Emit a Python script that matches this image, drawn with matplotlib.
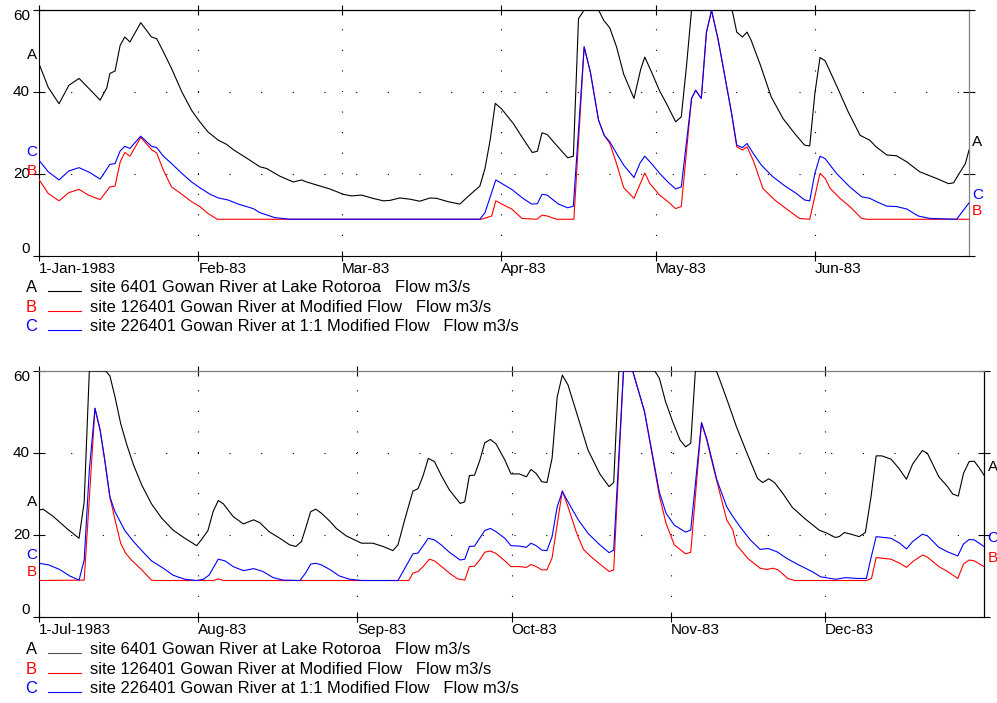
import matplotlib
matplotlib.use('Agg')
import matplotlib.pyplot as plt
from matplotlib.lines import Line2D
import pandas as pd
import numpy as np

plt.rcParams['font.family'] = ['Liberation Sans', 'DejaVu Sans']
plt.rcParams['lines.scale_dashes'] = False

# ---------------- data: top panel (days after 1-Jan-1983) ----------------
top_a_days = [0, 1.8, 3.9, 5.8, 7.8, 11.9, 13.2, 13.8, 14.8, 15.8, 16.7, 17.7, 19.8, 21.9, 22.9, 24.2,
              25.8, 27.8, 29.7, 31.3, 32.9, 34.9, 36.5, 37.8, 40.7, 43.0, 44.3, 46.9, 49.5, 51.1, 52.1,
              56.6, 59.2, 60.8, 62.8, 65.0, 67.0, 68.3, 70.2, 72.2, 74.1, 76.1, 77.4, 79.6, 81.9, 83.8,
              85.8, 86.8, 87.8, 88.8, 90.0, 92.3, 94.2, 96.0, 97.0, 97.9, 98.9, 100.7, 102.9, 104.0,
              105.0, 106.1, 108.9, 109.9, 111.1, 112.4, 113.8, 115.8, 117.1, 117.9, 119.2, 120.8, 122.1,
              123.9, 125.0, 126.0, 127.0, 134.9, 135.8, 136.9, 137.8, 138.6, 140.3, 142.5, 144.8, 147.1,
              149.0, 150.0, 151.0, 152.0, 153.0, 155.2, 157.5, 159.8, 161.7, 162.9, 165.0, 166.9, 168.9,
              171.4, 175.0, 177.0, 178.0, 179.3, 180.3, 181.0]
top_a_vals = [46.9, 41.1, 37.1, 41.6, 43.3, 38.0, 41.0, 44.5, 45.1, 51.4, 53.4, 52.2, 56.9, 53.4, 53.0, 49.8,
              45.7, 40.0, 35.5, 32.7, 30.2, 28.2, 27.2, 25.9, 23.6, 21.7, 21.3, 19.4, 18.0, 18.5, 18.0,
              16.3, 15.0, 14.6, 14.8, 14.0, 13.4, 13.5, 14.1, 13.8, 13.3, 14.1, 14.0, 13.2, 12.6, 14.8,
              17.0, 21.3, 28.2, 37.2, 35.9, 32.3, 28.6, 25.2, 25.5, 30.0, 29.6, 27.0, 23.9, 24.3,
              57.9, 60.0, 60.0, 57.5, 55.6, 51.0, 44.3, 38.4, 45.5, 48.5, 44.9, 40.2, 37.2,
              32.7, 33.9, 46.1, 60.0, 60.0, 54.6, 53.4, 54.6, 52.6, 46.9, 38.8, 33.5, 29.8,
              27.0, 26.8, 39.6, 48.4, 47.6, 41.6, 35.1, 29.4, 28.2, 26.6, 24.6, 24.4, 22.9,
              20.5, 18.7, 17.6, 17.8, 20.5, 22.5, 25.8]

top_b_days = [0, 1.8, 3.9, 5.8, 7.8, 9.6, 11.9, 13.8, 14.8, 15.8, 16.7, 17.7, 19.8, 21.9, 22.9, 24.2,
              25.8, 27.8, 29.7, 31.3, 32.9, 34.7, 86.1, 88.1, 88.9, 90.4, 92.0, 94.0, 96.9, 97.9, 98.9,
              100.7, 104.1, 106.1, 107.3, 108.9, 110.0, 111.1, 112.4, 113.8, 115.8, 117.9, 118.9, 120.8,
              122.4, 123.9, 125.0, 127.0, 127.8, 128.9, 129.9, 130.9, 132.2, 133.5, 134.8, 135.8, 136.9,
              137.8, 139.0, 140.9, 143.2, 145.4, 148.0, 150.0, 152.0, 153.0, 154.0, 155.9, 157.8, 160.1,
              161.1, 181.0]
top_b_vals = [18.6, 15.2, 13.4, 15.4, 16.2, 14.8, 13.7, 16.8, 17.0, 22.9, 25.2, 24.3, 28.9, 25.9, 25.1, 20.9,
              16.8, 15.0, 13.2, 12.0, 10.3, 8.9, 8.9, 9.7, 13.4, 12.4, 11.4, 9.1, 8.9, 9.9, 9.7,
              8.9, 8.9, 51.0, 44.9, 33.1, 29.4, 27.4, 22.5, 16.6, 14.0, 20.2, 17.6, 14.8,
              13.2, 11.5, 12.0, 38.4, 40.4, 38.4, 54.6, 59.9, 52.6, 43.7, 34.7, 26.6, 25.8,
              26.6, 23.3, 16.4, 13.6, 11.5, 9.1, 8.9, 20.1, 18.9, 16.4, 14.0, 12.0, 9.1,
              8.9, 8.9]

top_c_days = [0, 1.8, 3.9, 5.8, 7.8, 9.9, 11.9, 13.8, 14.8, 15.8, 16.7, 17.7, 19.8, 21.9, 22.9, 24.2,
              25.8, 27.8, 29.7, 31.3, 33.3, 34.9, 36.8, 38.8, 41.7, 43.0, 45.9, 48.8, 85.8, 86.8, 88.9,
              92.0, 94.2, 95.9, 97.0, 97.9, 98.9, 101.1, 102.9, 104.0, 106.1, 107.3, 108.9, 110.0, 111.1,
              112.4, 113.8, 115.8, 117.0, 117.9, 119.2, 120.8, 122.4, 123.9, 125.0, 127.0, 127.8, 128.9,
              129.9, 130.9, 132.2, 133.5, 134.8, 135.8, 136.9, 137.8, 139.0, 140.6, 142.8, 145.1, 147.4,
              149.0, 150.0, 151.0, 152.0, 153.0, 155.2, 157.8, 160.1, 161.7, 163.0, 165.0, 166.9, 168.9,
              171.1, 173.4, 178.6, 181.0]
top_c_vals = [23.3, 20.5, 18.5, 20.7, 21.5, 20.3, 18.7, 22.3, 22.5, 25.6, 26.7, 26.2, 29.2, 26.7, 26.4, 24.3,
              22.5, 20.1, 18.0, 16.6, 15.0, 14.1, 13.6, 12.6, 11.5, 10.5, 9.3, 8.9, 8.9, 10.5, 18.5,
              16.2, 14.0, 12.6, 12.7, 15.0, 14.8, 12.6, 11.7, 12.1, 51.0, 44.9, 33.1, 29.4, 27.8,
              25.0, 22.1, 19.1, 22.7, 24.3, 22.5, 20.1, 18.0, 16.3, 16.8, 38.4, 40.4, 38.4,
              54.6, 59.9, 52.6, 43.7, 34.7, 27.0, 26.4, 27.4, 25.0, 22.1, 19.3, 17.1, 15.2,
              13.6, 13.4, 20.1, 24.3, 23.7, 20.1, 16.8, 14.4, 14.0, 13.2, 12.1, 12.0, 11.4,
              9.7, 9.1, 8.9, 12.9]

# ---------------- data: bottom panel (days after 1-Jul-1983) ----------------
bot_a_days = [0, 0.8, 2.8, 5.4, 7.8, 8.8, 9.8, 13.0, 13.8, 14.8, 15.9, 17.1, 18.4, 20.0, 21.9, 23.9,
              26.1, 28.4, 30.7, 31.6, 32.9, 33.9, 34.9, 35.9, 37.8, 39.8, 41.8, 43.0, 44.8, 46.9, 48.8,
              50.0, 51.1, 51.9, 52.9, 53.9, 55.0, 56.6, 57.9, 59.8, 62.8, 65.0, 67.0, 68.9, 69.9, 71.2,
              72.8, 73.8, 74.8, 75.8, 77.0, 78.3, 79.9, 82.0, 82.9, 83.8, 84.8, 85.8, 86.8, 87.9, 89.0,
              90.7, 91.9, 93.5, 94.9, 95.8, 96.8, 97.9, 98.9, 99.9, 100.9, 101.9, 103.0, 105.0, 106.9,
              109.2, 111.0, 111.9, 112.9, 119.9, 120.8, 122.0, 123.4, 124.8, 125.9, 126.9, 127.8, 131.9,
              132.8, 134.1, 135.8, 138.0, 139.9, 140.9, 142.1, 143.2, 144.8, 146.7, 149.3, 151.9, 153.5,
              155.0, 155.8, 156.8, 158.1, 159.7, 160.9, 162.0, 163.0, 164.1, 165.9, 167.4, 168.9, 170.1,
              172.0, 173.0, 175.2, 176.9, 177.9, 179.0, 180.0, 181.1, 182.1, 183.0, 184.0]
bot_a_vals = [26.1, 26.3, 24.5, 21.6, 19.2, 28.1, 60.0, 60.0, 58.8, 53.7, 47.2, 42.0, 37.1, 32.2, 27.6, 24.1,
              21.2, 19.2, 17.4, 18.8, 21.1, 25.7, 28.4, 27.6, 24.5, 22.7, 23.7, 23.0, 20.8, 19.2, 17.6,
              17.2, 18.4, 21.6, 25.7, 26.3, 25.3, 23.4, 21.6, 19.8, 18.0, 18.0, 17.2, 16.2, 17.6, 23.7,
              30.7, 31.3, 34.5, 38.7, 37.9, 34.6, 31.0, 27.7, 28.1, 34.5, 34.6, 38.1, 42.5, 43.3, 42.2,
              38.3, 34.9, 34.9, 34.2, 36.0, 35.0, 33.0, 32.8, 38.7, 53.7, 59.0, 56.6, 48.5, 40.7,
              34.9, 31.8, 32.8, 60.0, 60.0, 58.2, 52.5, 47.6, 43.2, 41.5, 42.4, 60.0, 60.0,
              57.0, 52.5, 46.4, 39.5, 33.8, 32.8, 33.7, 32.8, 30.2, 26.7, 23.8, 21.2, 20.4,
              19.4, 19.6, 20.6, 20.2, 19.6, 20.6, 29.3, 39.3, 39.3, 38.5, 36.3, 33.6, 37.3,
              40.6, 39.9, 34.2, 31.8, 30.0, 29.5, 35.0, 37.9, 38.0, 36.5, 34.6]

bot_b_days = [0, 8.8, 10.9, 11.9, 12.8, 13.8, 14.8, 15.9, 16.9, 18.0, 20.0, 21.9, 22.5, 34.0, 34.9, 35.9,
              72.0, 72.8, 73.8, 74.8, 76.0, 77.0, 78.6, 79.9, 81.5, 82.9, 83.8, 84.8, 85.8, 86.8, 87.9,
              89.0, 90.7, 91.9, 93.5, 94.9, 95.8, 96.8, 97.9, 98.9, 99.9, 101.9, 103.0, 104.7, 106.0,
              107.3, 109.2, 111.0, 111.9, 113.8, 115.6, 117.9, 120.8, 122.1, 123.7, 125.9, 126.9, 129.0,
              130.0, 131.6, 133.9, 135.1, 135.8, 138.0, 140.4, 141.7, 142.9, 143.9, 145.8, 147.1, 161.1,
              162.1, 163.0, 165.9, 167.6, 168.9, 170.1, 172.0, 173.0, 175.2, 176.9, 178.9, 180.0, 181.1,
              182.1, 184.0]
bot_b_vals = [8.9, 9.0, 50.9, 45.6, 38.3, 29.3, 23.7, 18.0, 15.5, 13.9, 11.5, 9.0, 8.9, 8.9, 9.3, 8.9,
              8.9, 10.7, 11.1, 12.3, 14.1, 13.7, 12.1, 10.7, 9.3, 9.0, 12.3, 12.4, 13.9, 15.8, 16.1,
              15.5, 13.7, 12.3, 12.3, 12.1, 12.8, 12.3, 11.5, 11.5, 14.4, 30.8, 26.9, 20.4, 16.5,
              14.9, 12.9, 11.1, 11.5, 60.0, 60.0, 50.1, 29.5, 22.8, 17.6, 15.4, 15.8, 47.4,
              43.2, 35.0, 23.7, 21.2, 17.6, 14.3, 11.9, 11.6, 11.9, 11.5, 9.4, 8.9, 8.9,
              9.4, 14.5, 14.1, 13.1, 12.1, 13.5, 15.1, 14.6, 12.3, 11.1, 9.4, 12.9, 13.9,
              13.7, 12.3]

bot_c_days = [0, 1.9, 4.0, 6.0, 7.8, 8.8, 9.8, 10.9, 11.9, 12.8, 13.8, 14.8, 16.7, 18.4, 20.0, 21.9,
              24.2, 26.1, 28.4, 30.7, 32.0, 33.1, 34.9, 36.2, 37.8, 39.8, 41.8, 43.6, 45.6, 47.5, 50.8,
              51.9, 52.9, 53.9, 55.0, 56.6, 58.5, 60.5, 62.8, 69.9, 72.8, 73.8, 75.8, 77.0, 78.3, 79.9,
              82.0, 82.9, 83.8, 84.8, 85.8, 86.8, 87.9, 89.0, 90.7, 91.9, 93.5, 94.9, 95.8, 96.8, 97.9,
              98.9, 99.9, 100.9, 101.9, 103.0, 105.0, 106.9, 109.2, 111.0, 111.9, 113.8, 115.6, 117.9,
              120.8, 122.1, 123.7, 125.9, 126.9, 129.0, 130.0, 132.0, 133.9, 135.1, 136.5, 138.5, 140.4,
              142.0, 143.7, 145.6, 147.6, 150.5, 152.2, 155.1, 157.0, 159.3, 161.1, 161.9, 163.0, 165.9,
              167.6, 168.9, 170.1, 172.0, 173.0, 175.2, 176.9, 178.9, 180.0, 181.1, 182.1, 184.0]
bot_c_vals = [13.1, 12.7, 11.6, 10.0, 9.0, 13.9, 35.9, 50.9, 45.6, 38.3, 29.3, 25.7, 21.1, 18.4, 16.2, 13.7,
              11.9, 10.2, 9.2, 8.9, 9.2, 10.2, 14.1, 13.7, 12.3, 11.3, 11.8, 11.1, 9.6, 9.0, 8.9,
              10.7, 12.9, 13.1, 12.7, 11.6, 10.0, 9.2, 8.9, 8.9, 15.4, 15.6, 19.2, 18.8, 17.6, 15.8,
              13.9, 14.1, 17.2, 17.3, 19.2, 21.1, 21.6, 20.8, 19.2, 17.4, 17.3, 17.0, 18.0, 17.4, 16.3,
              16.2, 19.6, 26.9, 30.6, 28.1, 23.7, 20.4, 17.6, 15.7, 16.3, 60.0, 60.0, 50.1,
              30.4, 25.3, 22.4, 20.7, 21.2, 47.4, 43.6, 33.4, 26.9, 24.5, 22.0, 18.8, 16.5,
              16.7, 15.9, 14.3, 12.9, 11.1, 9.8, 9.2, 9.6, 9.4, 9.4, 13.9, 19.6, 19.2,
              18.0, 16.6, 18.4, 20.2, 19.8, 17.0, 15.9, 14.9, 17.8, 18.9, 18.8, 17.2]

top_ticks = ['1983-01-01', '1983-02-01', '1983-03-01', '1983-04-01', '1983-05-01', '1983-06-01']
top_ticklabels = ['1-Jan-1983', 'Feb-83', 'Mar-83', 'Apr-83', 'May-83', 'Jun-83']
bot_ticks = ['1983-07-01', '1983-08-01', '1983-09-01', '1983-10-01', '1983-11-01', '1983-12-01']
bot_ticklabels = ['1-Jul-1983', 'Aug-83', 'Sep-83', 'Oct-83', 'Nov-83', 'Dec-83']
y_ticks = [0, 20, 40, 60]

series_letters = ['A', 'B', 'C']
series_names = ['site 6401 Gowan River at Lake Rotoroa   Flow m3/s',
                'site 126401 Gowan River at Modified Flow   Flow m3/s',
                'site 226401 Gowan River at 1:1 Modified Flow   Flow m3/s']
series_colors = ['#000000', '#ff0000', '#0000ff']

W, H = 997, 703
FS = 11
FS_LEG = 11.9
fig = plt.figure(figsize=(W / 100, H / 100), dpi=100)


def fx(px):
    return px / W


def fy(py):
    return 1 - py / H


def to_dates(start, days):
    return pd.Timestamp(start) + pd.to_timedelta(np.asarray(days, dtype=float), unit='D')


def panel(left, top, right, bottom, start, end, ticks, ticklabels, data, top_spine_col, right_spine_col,
          right_lab_dx):
    ax = fig.add_axes([fx(left), fy(bottom), fx(right - left), (bottom - top) / H])
    for (d, v), c in zip(data, series_colors):
        ax.plot(to_dates(start, d), v, color=c, lw=0.8, zorder=3)
    ax.set_xlim(pd.Timestamp(start), pd.Timestamp(end))
    ax.set_ylim(0, 60)
    tds = [pd.Timestamp(t) for t in ticks]
    ax.set_xticks(tds)
    ax.set_xticklabels(ticklabels)
    for lab in ax.get_xticklabels():
        lab.set_horizontalalignment('left')
    ax.tick_params(axis='x', direction='inout', length=7, width=0.8, top=True, pad=1, labelsize=FS)
    ax.set_yticks(y_ticks)
    ax.set_yticklabels([])
    ax.tick_params(axis='y', direction='inout', length=8, width=0.8, left=True, right=True)
    for s in ['left', 'bottom']:
        ax.spines[s].set_color('#000000')
        ax.spines[s].set_linewidth(0.8)
    ax.spines['top'].set_color(top_spine_col)
    ax.spines['right'].set_color(right_spine_col)
    ax.spines['top'].set_linewidth(0.9)
    ax.spines['right'].set_linewidth(0.9)
    # dotted grid
    for t in tds[1:]:
        ax.axvline(t, color='#000000', lw=0.8, dashes=(0.8, 14.0), zorder=1)
    for yv in [20, 40]:
        ax.axhline(yv, color='#000000', lw=0.8, dashes=(0.8, 22.0), zorder=1)
    # y tick labels
    for yv in y_ticks:
        va = 'center'
        dy = 0
        if yv == 60:
            va, dy = 'top', 1
        elif yv == 0:
            va, dy = 'bottom', 0
        ax.annotate(str(yv), xy=(0, yv), xycoords=('axes fraction', 'data'), xytext=(-6.5, dy),
                    textcoords='offset points', ha='right', va=va, fontsize=FS)
    # series letters at both ends
    for (d, v), c, L in zip(data, series_colors, series_letters):
        ax.annotate(L, xy=(0, v[0]), xycoords=('axes fraction', 'data'), xytext=(-1.5, 6),
                    textcoords='offset points', ha='right', va='center', color=c, fontsize=FS,
                    annotation_clip=False)
        ax.annotate(L, xy=(1, v[-1]), xycoords=('axes fraction', 'data'), xytext=(right_lab_dx, 6),
                    textcoords='offset points', ha='left', va='center', color=c, fontsize=FS,
                    annotation_clip=False)
    return ax


panel(39, 10, 969, 255.7, '1983-01-01', '1983-07-01', top_ticks, top_ticklabels,
      [(top_a_days, top_a_vals), (top_b_days, top_b_vals), (top_c_days, top_c_vals)],
      '#000000', '#808080', 2)
panel(39, 371, 984, 617, '1983-07-01', '1984-01-01', bot_ticks, bot_ticklabels,
      [(bot_a_days, bot_a_vals), (bot_b_days, bot_b_vals), (bot_c_days, bot_c_vals)],
      '#808080', '#000000', 2.5)


def legend(rows_y, a_line_col):
    for i, (L, name, c) in enumerate(zip(series_letters, series_names, series_colors)):
        y = rows_y[i]
        fig.text(fx(31), fy(y), L, color=c, ha='center', va='center', fontsize=FS_LEG)
        lc = a_line_col if i == 0 else c
        fig.add_artist(Line2D([fx(48), fx(81)], [fy(y + 3.3), fy(y + 3.3)], color=lc, lw=0.8))
        fig.text(fx(90), fy(y), name, color='#000000', ha='left', va='center', fontsize=FS_LEG)


legend([287.3, 307.3, 326.7], '#000000')
legend([649.3, 669.3, 688.5], '#555555')

fig.savefig('out.png', dpi=100)
